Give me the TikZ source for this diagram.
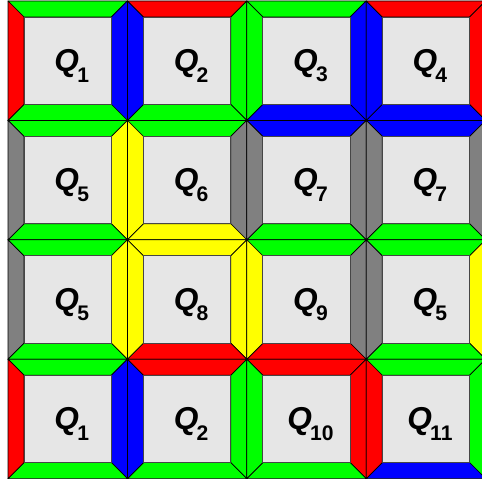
\documentclass[tikz,border=0pt]{standalone}
\usepackage{fontspec}
\newfontfamily\labelfont{Liberation Sans}
\definecolor{tgreen}{RGB}{0,255,0}
\definecolor{tblue}{RGB}{0,0,255}
\definecolor{tred}{RGB}{255,0,0}
\definecolor{tyellow}{RGB}{255,255,0}
\definecolor{tgray}{RGB}{128,128,128}
\definecolor{coregray}{RGB}{230,230,230}
\definecolor{rimgray}{RGB}{70,70,70}
\def\ts{119.4}
\def\tb{16}
% one tile: x, y, top, right, bottom, left, label, name
\newcommand{\tile}[8]{%
  \begin{scope}[shift={(#1,#2)}]
    \filldraw[edge,fill=#3] (0,0) -- (\ts,0) -- (\ts-\tb,\tb) -- (\tb,\tb) -- cycle;
    \filldraw[edge,fill=#4] (\ts,0) -- (\ts,\ts) -- (\ts-\tb,\ts-\tb) -- (\ts-\tb,\tb) -- cycle;
    \filldraw[edge,fill=#5] (\ts,\ts) -- (0,\ts) -- (\tb,\ts-\tb) -- (\ts-\tb,\ts-\tb) -- cycle;
    \filldraw[edge,fill=#6] (0,\ts) -- (0,0) -- (\tb,\tb) -- (\tb,\ts-\tb) -- cycle;
    \filldraw[core] (\tb,\tb) rectangle (\ts-\tb,\ts-\tb);
    \node[qlabel] (#8) at (\ts/2+4,\ts/2+5) {\textit{Q}\kern-1.5pt\raisebox{-9pt}{\fontsize{18}{18}\selectfont #7}};
  \end{scope}}
\begin{document}
\begin{tikzpicture}[
    x=0.03cm,y=-0.03cm,
    edge/.style={draw=black,line width=0.6pt,line join=round},
    core/.style={draw=rimgray,line width=0.6pt,fill=coregray},
    qlabel/.style={font=\labelfont\bfseries\fontsize{27}{27}\selectfont,inner sep=0pt}
  ]
  \clip (0,0) rectangle (482,479);
  % first row
  \tile{8}{1}{tgreen}{tblue}{tgreen}{tred}{1}{qa}
  \tile{127.4}{1}{tred}{tgreen}{tgreen}{tblue}{2}{qb}
  \tile{246.8}{1}{tgreen}{tblue}{tblue}{tgreen}{3}{qc}
  \tile{366.2}{1}{tred}{tred}{tblue}{tblue}{4}{qd}
  % second row
  \tile{8}{120.4}{tgreen}{tyellow}{tgreen}{tgray}{5}{qe}
  \tile{127.4}{120.4}{tgreen}{tgray}{tyellow}{tyellow}{6}{qf}
  \tile{246.8}{120.4}{tblue}{tgray}{tgreen}{tgray}{7}{qg}
  \tile{366.2}{120.4}{tblue}{tgray}{tgreen}{tgray}{7}{qh}
  % third row
  \tile{8}{239.8}{tgreen}{tyellow}{tgreen}{tgray}{5}{qi}
  \tile{127.4}{239.8}{tyellow}{tyellow}{tred}{tyellow}{8}{qj}
  \tile{246.8}{239.8}{tgreen}{tgray}{tred}{tyellow}{9}{qk}
  \tile{366.2}{239.8}{tgreen}{tyellow}{tgreen}{tgray}{5}{ql}
  % fourth row
  \tile{8}{359.2}{tgreen}{tblue}{tgreen}{tred}{1}{qm}
  \tile{127.4}{359.2}{tred}{tgreen}{tgreen}{tblue}{2}{qn}
  \tile{246.8}{359.2}{tred}{tred}{tgreen}{tgreen}{10}{qo}
  \tile{366.2}{359.2}{tgreen}{tgreen}{tblue}{tred}{11}{qp}
\end{tikzpicture}
\end{document}
